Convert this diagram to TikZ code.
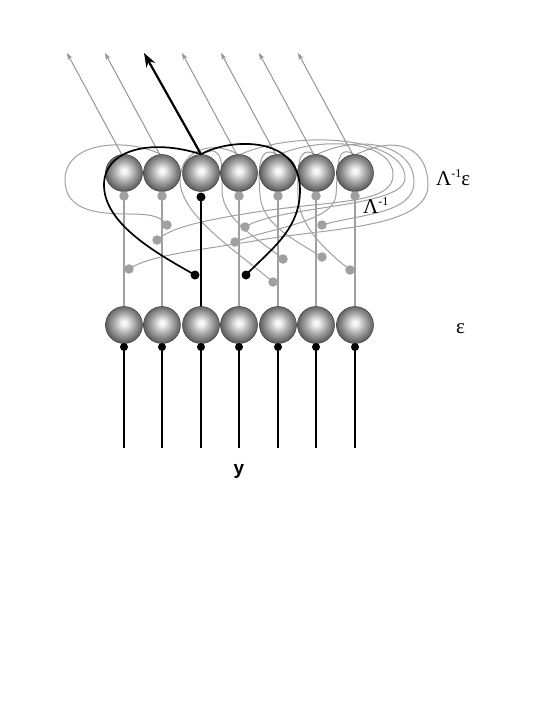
\documentclass[tikz,border=0pt]{standalone}
\usepackage{fontspec}
\setmainfont{Liberation Serif}
\setsansfont{Liberation Sans}
\usetikzlibrary{arrows.meta,calc}
\definecolor{sphhi}{gray}{0.97}
\definecolor{sphmid}{gray}{0.66}
\definecolor{sphedge}{gray}{0.37}
\definecolor{lg}{HTML}{A0A0A0}
\definecolor{ag}{HTML}{959595}
\pgfdeclareradialshading{sph}{\pgfpoint{0bp}{3bp}}{color(0bp)=(sphhi); color(3bp)=(sphhi); color(14bp)=(sphmid); color(25bp)=(sphedge); color(50bp)=(sphedge)}
\tikzset{
  sphere/.style={circle, minimum size=37pt, inner sep=0pt, draw=black!75, line width=0.5pt, shading=sph},
  gdot/.style={circle, fill=lg, minimum size=9.5pt, inner sep=0pt},
  kdot/.style={circle, fill=black, minimum size=9pt, inner sep=0pt},
  bdot/.style={circle, fill=black, minimum size=8pt, inner sep=0pt},
  vgray/.style={draw=lg, line width=2pt},
  vblack/.style={draw=black, line width=1.8pt},
  curvg/.style={draw=lg, line width=1pt},
  curvk/.style={draw=black, line width=1.7pt},
  garrow/.style={draw=ag, line width=1pt, -{Stealth[length=7pt,width=5pt]}},
  karrow/.style={draw=black, line width=2.2pt, -{Stealth[length=14pt,width=10pt]}},
  lab/.style={font=\fontsize{21}{24}\selectfont, inner sep=0pt, anchor=base west}
}
\begin{document}
\begin{tikzpicture}[x=1pt,y=-1pt]
\useasboundingbox (0,0) rectangle (545,705);
% coordinates of columns
\foreach \i/\x in {1/124,2/162,3/201,4/239,5/278,6/316,7/355}{
  \coordinate (T\i) at (\x,173);
  \coordinate (B\i) at (\x,325);
  \coordinate (A\i) at (\x-57,53);
  \coordinate (Y\i) at (\x,448);
}
% curve end dots (positions)
\coordinate (G1) at (167,225);
\coordinate (G2) at (157,240);
\coordinate (G3) at (129,269);
\coordinate (G4) at (245,227);
\coordinate (G5) at (235,242);
\coordinate (G6) at (283,259);
\coordinate (G7) at (273,282);
\coordinate (G8) at (322,225);
\coordinate (G9) at (322,257);
\coordinate (G10) at (350,270);
\coordinate (K1) at (195,275);
\coordinate (K2) at (246,275);

% gray Lambda^-1 curves (behind spheres)
\draw[curvg] (162,155) .. controls (130,138) and (65,140) .. (65,180) .. controls (65,212) and (100,214) .. (130,214) .. controls (155,214) and (162,218) .. (G1);
\draw[curvg] (278,155) .. controls (320,136) and (393,140) .. (393,175) .. controls (393,205) and (330,200) .. (250,213) .. controls (200,221) and (170,228) .. (G2);
\draw[curvg] (355,155) .. controls (400,133) and (428,150) .. (428,185) .. controls (428,228) and (330,228) .. (260,240) .. controls (200,250) and (150,255) .. (G3);
\draw[curvg] (239,155) .. controls (300,128) and (405,138) .. (405,178) .. controls (405,208) and (280,205) .. (G4);
\draw[curvg] (355,155) .. controls (335,142) and (338,170) .. (336,195) .. controls (334,222) and (270,228) .. (G5);
\draw[curvg] (201,155) .. controls (225,140) and (222,170) .. (222,190) .. controls (222,220) and (260,240) .. (G6);
\draw[curvg] (239,155) .. controls (215,140) and (180,148) .. (180,180) .. controls (180,215) and (235,250) .. (G7);
\draw[curvg] (316,155) .. controls (360,133) and (414,145) .. (414,182) .. controls (414,214) and (360,214) .. (G8);
\draw[curvg] (278,155) .. controls (258,143) and (258,170) .. (260,195) .. controls (262,225) and (295,240) .. (G9);
\draw[curvg] (316,155) .. controls (296,143) and (298,170) .. (298,195) .. controls (298,225) and (325,250) .. (G10);

% vertical lines
\foreach \i in {1,2,4,5,6,7}{ \draw[vgray] ($(T\i)+(0,23)$) -- ($(B\i)+(0,-18)$); }
\draw[vblack] ($(T3)+(0,24)$) -- ($(B3)+(0,-18)$);
\foreach \i in {1,...,7}{ \draw[vblack] ($(B\i)+(0,22)$) -- (Y\i); }

% output arrows
\foreach \i in {1,2,4,5,6,7}{ \draw[garrow] ($(T\i)+(-2,-18)$) -- (A\i); }

% spheres
\foreach \i in {1,...,7}{
  \node[sphere] (t\i) at (T\i) {};
  \node[sphere] (b\i) at (B\i) {};
}
\draw[karrow] (t3.north) -- (A3);

% dots under spheres
\foreach \i in {1,2,4,5,6,7}{ \node[gdot] (td\i) at ($(T\i)+(0,23)$) {}; }
\node[kdot] (td3) at ($(T3)+(0,24)$) {};
\foreach \i in {1,...,7}{ \node[bdot] (bd\i) at ($(B\i)+(0,22)$) {}; }

% end dots
\foreach \i in {1,...,10}{ \node[gdot] (g\i) at (G\i) {}; }

% black curves
\draw[curvk] (t3.north) .. controls (150,138) and (104,150) .. (104,185) .. controls (104,225) and (160,255) .. (K1);
\draw[curvk] (t3.north) .. controls (230,138) and (300,135) .. (300,190) .. controls (300,230) and (270,250) .. (K2);
\node[kdot] (k1) at (K1) {};
\node[kdot] (k2) at (K2) {};

% labels
\node[lab] (l1) at (436,185) {Λ\raisebox{8pt}{\fontsize{12}{12}\selectfont -1}ε};
\node[lab] (l2) at (363,213) {Λ\raisebox{8pt}{\fontsize{12}{12}\selectfont -1}};
\node[lab] (l3) at (456,333) {ε};
\node[font=\sffamily\bfseries\fontsize{19}{22}\selectfont, inner sep=0pt, anchor=base] (ly) at (239,474) {y};
\end{tikzpicture}
\end{document}
